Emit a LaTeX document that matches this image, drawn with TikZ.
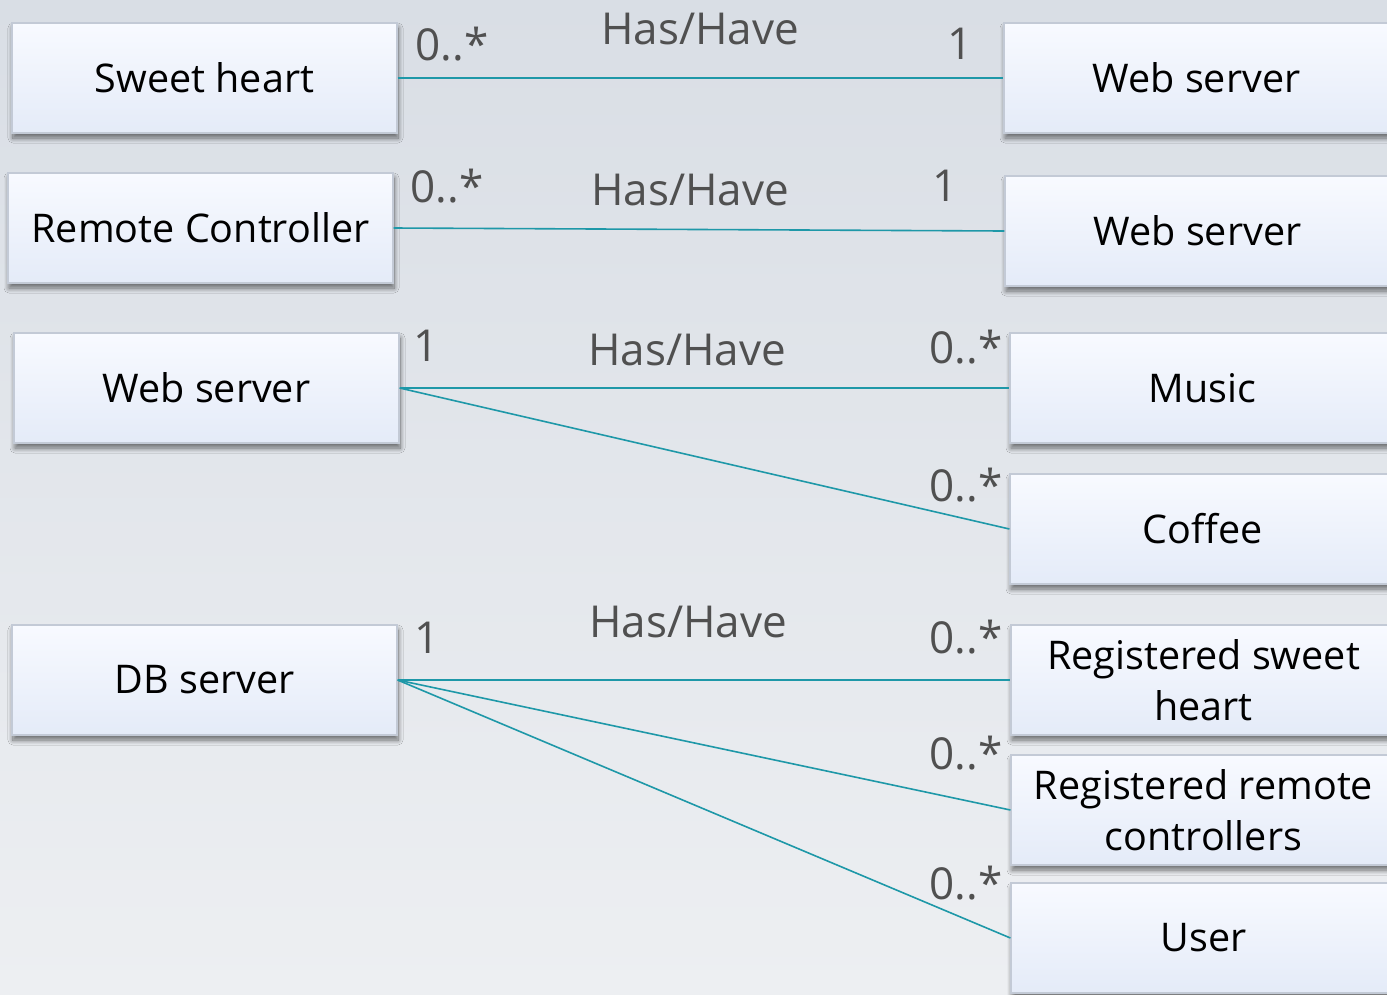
\documentclass[tikz,border=0pt]{standalone}
\usepackage{fontspec}
\setmainfont{Open Sans}
\usetikzlibrary{shadows.blur}
\definecolor{linecol}{HTML}{1E98A8}
\definecolor{labcol}{HTML}{505050}
\definecolor{boxtop}{HTML}{F8FAFF}
\definecolor{boxbot}{HTML}{E4EBF8}
\definecolor{boxline}{HTML}{C3CAD6}
\definecolor{bgtop}{HTML}{D9DEE5}
\definecolor{bgbot}{HTML}{EDEFF2}
\begin{document}
\begin{tikzpicture}[x=1pt,y=-1pt,
  cls/.style={draw=boxline, line width=1.2pt, top color=boxtop, bottom color=boxbot,
    minimum width=385pt, minimum height=110pt, inner sep=2pt, align=center,
    font=\fontsize{39.5}{51}\selectfont,
    blur shadow={shadow xshift=1pt, shadow yshift=-5pt, shadow blur radius=5pt, shadow blur steps=10, shadow opacity=55}},
  assoc/.style={draw=linecol, line width=1.6pt},
  mult/.style={text=labcol, font=\fontsize{44}{50}\selectfont, inner sep=0pt},
  rel/.style={text=labcol, font=\fontsize{44}{50}\selectfont, inner sep=0pt}]
\useasboundingbox (0,0) rectangle (1387,994);
\shade[top color=bgtop, bottom color=bgbot] (0,0) rectangle (1387,994);
% left boxes
\node[cls] (sh)  at (204.5,78)  {Sweet heart};
\node[cls] (rc)  at (200.5,228) {Remote Controller};
\node[cls] (ws3) at (206.5,388) {Web server};
\node[cls] (db)  at (204.5,680) {DB server};
% right boxes
\node[cls] (ws1) at (1196.5,78)  {Web server};
\node[cls] (ws2) at (1197.5,231) {Web server};
\node[cls] (mu)  at (1202.5,388) {Music};
\node[cls] (co)  at (1202.5,529) {Coffee};
\node[cls] (rsh) at (1203.5,680) {Registered sweet\\heart};
\node[cls] (rrc) at (1203.5,810) {Registered remote\\controllers};
\node[cls] (us)  at (1203.5,938) {User};
% connectors
\draw[assoc] (sh.east) -- (ws1.west);
\draw[assoc] (rc.east) -- (ws2.west);
\draw[assoc] (ws3.east) -- (mu.west);
\draw[assoc] (ws3.east) -- (co.west);
\draw[assoc] (db.east) -- (rsh.west);
\draw[assoc] (db.east) -- (rrc.west);
\draw[assoc] (db.east) -- (us.west);
% labels
\node[mult] (m1a) at (452,44) {0..*};
\node[rel]  (r1)  at (700,29) {Has/Have};
\node[mult] (m1b) at (960,44) {1};
\node[mult] (m2a) at (447,186) {0..*};
\node[rel]  (r2)  at (690,190) {Has/Have};
\node[mult] (m2b) at (945,186) {1};
\node[mult] (m3a) at (426,346) {1};
\node[rel]  (r3)  at (687,350) {Has/Have};
\node[mult] (m3b) at (966,347) {0..*};
\node[mult] (m4b) at (966,485) {0..*};
\node[mult] (m5a) at (427,638) {1};
\node[rel]  (r5)  at (688,622) {Has/Have};
\node[mult] (m5b) at (966,637) {0..*};
\node[mult] (m6b) at (966,753) {0..*};
\node[mult] (m7b) at (966,883) {0..*};
\end{tikzpicture}
\end{document}
